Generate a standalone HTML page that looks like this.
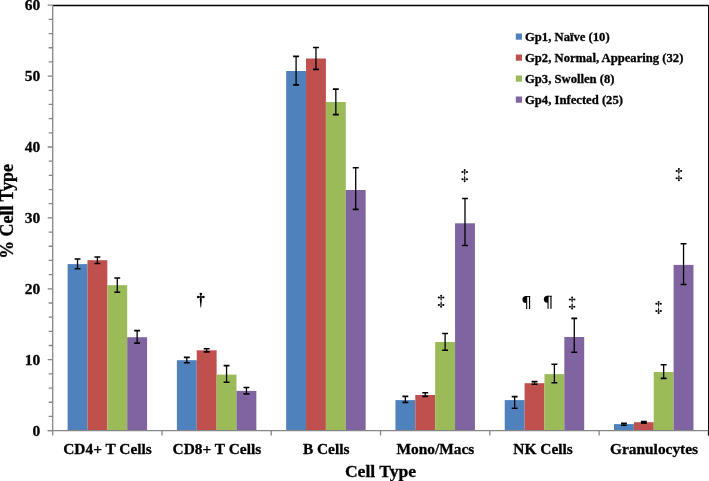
<!DOCTYPE html>
<html><head><meta charset="utf-8"><style>
html,body{margin:0;padding:0;background:#fff;width:709px;height:481px;overflow:hidden}
svg{display:block;will-change:transform}
text{font-family:"Liberation Serif",serif;font-weight:bold;fill:#000;stroke:#000;stroke-width:0.3px}
.t15{font-size:15.4px}
.tk{font-size:15.5px}
.t17{font-size:17.6px}
.t18{font-size:17.9px}
.t12{font-size:12.65px}
</style></head><body>
<svg width="709" height="481" viewBox="0 0 709 481">
<rect x="67.60" y="264.10" width="19.87" height="166.50" fill="#4F81BD"/>
<rect x="87.47" y="260.20" width="19.87" height="170.40" fill="#C0504D"/>
<rect x="107.34" y="285.20" width="19.87" height="145.40" fill="#9BBB59"/>
<rect x="127.21" y="337.20" width="19.87" height="93.40" fill="#8064A2"/>
<rect x="176.88" y="360.20" width="19.87" height="70.40" fill="#4F81BD"/>
<rect x="196.75" y="350.30" width="19.87" height="80.30" fill="#C0504D"/>
<rect x="216.62" y="374.60" width="19.87" height="56.00" fill="#9BBB59"/>
<rect x="236.49" y="390.90" width="19.87" height="39.70" fill="#8064A2"/>
<rect x="286.16" y="71.00" width="19.87" height="359.60" fill="#4F81BD"/>
<rect x="306.03" y="58.50" width="19.87" height="372.10" fill="#C0504D"/>
<rect x="325.90" y="102.00" width="19.87" height="328.60" fill="#9BBB59"/>
<rect x="345.77" y="190.00" width="19.87" height="240.60" fill="#8064A2"/>
<rect x="395.44" y="400.10" width="19.87" height="30.50" fill="#4F81BD"/>
<rect x="415.31" y="395.00" width="19.87" height="35.60" fill="#C0504D"/>
<rect x="435.18" y="342.00" width="19.87" height="88.60" fill="#9BBB59"/>
<rect x="455.05" y="223.30" width="19.87" height="207.30" fill="#8064A2"/>
<rect x="504.72" y="400.10" width="19.87" height="30.50" fill="#4F81BD"/>
<rect x="524.59" y="383.20" width="19.87" height="47.40" fill="#C0504D"/>
<rect x="544.46" y="374.10" width="19.87" height="56.50" fill="#9BBB59"/>
<rect x="564.33" y="337.00" width="19.87" height="93.60" fill="#8064A2"/>
<rect x="614.00" y="424.10" width="19.87" height="6.50" fill="#4F81BD"/>
<rect x="633.87" y="422.20" width="19.87" height="8.40" fill="#C0504D"/>
<rect x="653.74" y="372.00" width="19.87" height="58.60" fill="#9BBB59"/>
<rect x="673.61" y="264.90" width="19.87" height="165.70" fill="#8064A2"/>
<path d="M77.54 259.00V268.80" stroke="#000" stroke-width="1.3" fill="none"/>
<path d="M74.59 259.00H80.49M74.59 268.80H80.49" stroke="#000" stroke-width="1.6" fill="none"/>
<path d="M97.41 257.00V263.50" stroke="#000" stroke-width="1.3" fill="none"/>
<path d="M94.46 257.00H100.36M94.46 263.50H100.36" stroke="#000" stroke-width="1.6" fill="none"/>
<path d="M117.28 278.00V292.30" stroke="#000" stroke-width="1.3" fill="none"/>
<path d="M114.33 278.00H120.23M114.33 292.30H120.23" stroke="#000" stroke-width="1.6" fill="none"/>
<path d="M137.15 330.60V343.10" stroke="#000" stroke-width="1.3" fill="none"/>
<path d="M134.20 330.60H140.09M134.20 343.10H140.09" stroke="#000" stroke-width="1.6" fill="none"/>
<path d="M186.82 357.40V362.70" stroke="#000" stroke-width="1.3" fill="none"/>
<path d="M183.87 357.40H189.77M183.87 362.70H189.77" stroke="#000" stroke-width="1.6" fill="none"/>
<path d="M206.69 348.80V351.90" stroke="#000" stroke-width="1.3" fill="none"/>
<path d="M203.74 348.80H209.64M203.74 351.90H209.64" stroke="#000" stroke-width="1.6" fill="none"/>
<path d="M226.56 365.60V382.30" stroke="#000" stroke-width="1.3" fill="none"/>
<path d="M223.61 365.60H229.51M223.61 382.30H229.51" stroke="#000" stroke-width="1.6" fill="none"/>
<path d="M246.43 387.50V393.90" stroke="#000" stroke-width="1.3" fill="none"/>
<path d="M243.48 387.50H249.38M243.48 393.90H249.38" stroke="#000" stroke-width="1.6" fill="none"/>
<path d="M296.09 56.40V84.90" stroke="#000" stroke-width="1.3" fill="none"/>
<path d="M293.14 56.40H299.04M293.14 84.90H299.04" stroke="#000" stroke-width="1.6" fill="none"/>
<path d="M315.96 47.50V69.40" stroke="#000" stroke-width="1.3" fill="none"/>
<path d="M313.01 47.50H318.91M313.01 69.40H318.91" stroke="#000" stroke-width="1.6" fill="none"/>
<path d="M335.83 89.10V114.60" stroke="#000" stroke-width="1.3" fill="none"/>
<path d="M332.88 89.10H338.78M332.88 114.60H338.78" stroke="#000" stroke-width="1.6" fill="none"/>
<path d="M355.70 167.80V209.40" stroke="#000" stroke-width="1.3" fill="none"/>
<path d="M352.75 167.80H358.65M352.75 209.40H358.65" stroke="#000" stroke-width="1.6" fill="none"/>
<path d="M405.38 396.40V402.40" stroke="#000" stroke-width="1.3" fill="none"/>
<path d="M402.43 396.40H408.32M402.43 402.40H408.32" stroke="#000" stroke-width="1.6" fill="none"/>
<path d="M425.25 392.70V396.40" stroke="#000" stroke-width="1.3" fill="none"/>
<path d="M422.30 392.70H428.19M422.30 396.40H428.19" stroke="#000" stroke-width="1.6" fill="none"/>
<path d="M445.12 333.50V350.30" stroke="#000" stroke-width="1.3" fill="none"/>
<path d="M442.17 333.50H448.06M442.17 350.30H448.06" stroke="#000" stroke-width="1.6" fill="none"/>
<path d="M464.99 198.50V245.50" stroke="#000" stroke-width="1.3" fill="none"/>
<path d="M462.04 198.50H467.94M462.04 245.50H467.94" stroke="#000" stroke-width="1.6" fill="none"/>
<path d="M514.65 396.60V408.20" stroke="#000" stroke-width="1.3" fill="none"/>
<path d="M511.70 396.60H517.61M511.70 408.20H517.61" stroke="#000" stroke-width="1.6" fill="none"/>
<path d="M534.52 381.60V384.30" stroke="#000" stroke-width="1.3" fill="none"/>
<path d="M531.57 381.60H537.47M531.57 384.30H537.47" stroke="#000" stroke-width="1.6" fill="none"/>
<path d="M554.39 364.30V382.70" stroke="#000" stroke-width="1.3" fill="none"/>
<path d="M551.44 364.30H557.34M551.44 382.70H557.34" stroke="#000" stroke-width="1.6" fill="none"/>
<path d="M574.26 318.40V352.30" stroke="#000" stroke-width="1.3" fill="none"/>
<path d="M571.31 318.40H577.21M571.31 352.30H577.21" stroke="#000" stroke-width="1.6" fill="none"/>
<path d="M623.93 423.20V425.20" stroke="#000" stroke-width="1.3" fill="none"/>
<path d="M620.98 423.20H626.88M620.98 425.20H626.88" stroke="#000" stroke-width="1.6" fill="none"/>
<path d="M643.80 421.60V423.20" stroke="#000" stroke-width="1.3" fill="none"/>
<path d="M640.85 421.60H646.75M640.85 423.20H646.75" stroke="#000" stroke-width="1.6" fill="none"/>
<path d="M663.67 364.70V378.40" stroke="#000" stroke-width="1.3" fill="none"/>
<path d="M660.72 364.70H666.62M660.72 378.40H666.62" stroke="#000" stroke-width="1.6" fill="none"/>
<path d="M683.54 243.70V284.50" stroke="#000" stroke-width="1.3" fill="none"/>
<path d="M680.59 243.70H686.50M680.59 284.50H686.50" stroke="#000" stroke-width="1.6" fill="none"/>
<path d="M52.7 5.5H708.8M708.8 5.5V430.60" stroke="#000" stroke-width="1.5" fill="none"/>
<path d="M52.7 5.5V435.60M47.7 430.60H52.7M48.7 416.42H52.7M48.7 402.24H52.7M48.7 388.06H52.7M48.7 373.88H52.7M47.7 359.70H52.7M48.7 345.52H52.7M48.7 331.34H52.7M48.7 317.16H52.7M48.7 302.98H52.7M47.7 288.80H52.7M48.7 274.62H52.7M48.7 260.44H52.7M48.7 246.26H52.7M48.7 232.08H52.7M47.7 217.90H52.7M48.7 203.72H52.7M48.7 189.54H52.7M48.7 175.36H52.7M48.7 161.18H52.7M47.7 147.00H52.7M48.7 132.82H52.7M48.7 118.64H52.7M48.7 104.46H52.7M48.7 90.28H52.7M47.7 76.10H52.7M48.7 61.92H52.7M48.7 47.74H52.7M48.7 33.56H52.7M48.7 19.38H52.7M47.7 5.20H52.7" stroke="#868686" stroke-width="1.3" fill="none"/>
<path d="M47.7 430.60H708.8M161.98 430.60V435.60M271.26 430.60V435.60M380.54 430.60V435.60M489.82 430.60V435.60M599.10 430.60V435.60M708.38 430.60V435.60" stroke="#868686" stroke-width="1.3" fill="none"/>
<path d="M708.8 430.60V435.60" stroke="#000" stroke-width="1.5" fill="none"/>
<text x="40.2" y="435.70" text-anchor="end" class="tk">0</text>
<text x="40.2" y="364.80" text-anchor="end" class="tk">10</text>
<text x="40.2" y="293.90" text-anchor="end" class="tk">20</text>
<text x="40.2" y="223.00" text-anchor="end" class="tk">30</text>
<text x="40.2" y="152.10" text-anchor="end" class="tk">40</text>
<text x="40.2" y="81.20" text-anchor="end" class="tk">50</text>
<text x="40.2" y="10.30" text-anchor="end" class="tk">60</text>
<text x="107.54" y="453.6" text-anchor="middle" class="t15">CD4+ T Cells</text>
<text x="216.92" y="453.6" text-anchor="middle" class="t15">CD8+ T Cells</text>
<text x="326.20" y="453.6" text-anchor="middle" class="t15">B Cells</text>
<text x="435.38" y="453.6" text-anchor="middle" class="t15">Mono/Macs</text>
<text x="543.06" y="453.6" text-anchor="middle" class="t15">NK Cells</text>
<text x="654.04" y="453.6" text-anchor="middle" class="t15">Granulocytes</text>
<text x="380.50" y="476.6" text-anchor="middle" class="t17">Cell Type</text>
<text transform="translate(12.9 211.4) rotate(-90)" text-anchor="middle" class="t18">% Cell Type</text>
<rect x="515.8" y="33.50" width="6.2" height="6.2" fill="#4F81BD"/>
<text x="525" y="40.60" class="t12">Gp1, Naïve (10)</text>
<rect x="515.8" y="54.50" width="6.2" height="6.2" fill="#C0504D"/>
<text x="525" y="61.60" class="t12">Gp2, Normal, Appearing (32)</text>
<rect x="515.8" y="75.50" width="6.2" height="6.2" fill="#9BBB59"/>
<text x="525" y="82.60" class="t12">Gp3, Swollen (8)</text>
<rect x="515.8" y="96.50" width="6.2" height="6.2" fill="#8064A2"/>
<text x="525" y="103.60" class="t12">Gp4, Infected (25)</text>
<g fill="#000">
<path d="M198.15 297.00H203.45" stroke="#000" stroke-width="1.3"/><path d="M200.30 294.00H201.30L201.40 297.70L201.90 299.30L201.10 307.50H200.50L199.70 299.30L200.20 297.70Z"/><circle cx="200.80" cy="294.00" r="1.25"/><circle cx="198.15" cy="297.00" r="1.25"/><circle cx="203.45" cy="297.00" r="1.25"/>
<path d="M438.80 297.60H443.40M438.80 304.90H443.40" stroke="#000" stroke-width="0.7"/><path d="M440.90 295.70H441.30L441.55 299.00L441.22 301.05L441.55 303.10L441.30 306.80H440.90L440.65 303.10L440.98 301.05L440.65 299.00Z"/><circle cx="441.10" cy="295.70" r="1.0"/><circle cx="438.80" cy="297.60" r="1.0"/><circle cx="443.40" cy="297.60" r="1.0"/><circle cx="438.80" cy="304.90" r="1.0"/><circle cx="443.40" cy="304.90" r="1.0"/><circle cx="441.10" cy="306.80" r="1.0"/><ellipse cx="441.10" cy="299.00" rx="0.6" ry="0.85"/><ellipse cx="441.10" cy="303.10" rx="0.6" ry="0.85"/>
<path d="M462.40 172.00H467.00M462.40 179.30H467.00" stroke="#000" stroke-width="0.7"/><path d="M464.50 170.10H464.90L465.15 173.40L464.82 175.45L465.15 177.50L464.90 181.20H464.50L464.25 177.50L464.58 175.45L464.25 173.40Z"/><circle cx="464.70" cy="170.10" r="1.0"/><circle cx="462.40" cy="172.00" r="1.0"/><circle cx="467.00" cy="172.00" r="1.0"/><circle cx="462.40" cy="179.30" r="1.0"/><circle cx="467.00" cy="179.30" r="1.0"/><circle cx="464.70" cy="181.20" r="1.0"/><ellipse cx="464.70" cy="173.40" rx="0.6" ry="0.85"/><ellipse cx="464.70" cy="177.50" rx="0.6" ry="0.85"/>
<path d="M569.80 299.40H574.40M569.80 306.70H574.40" stroke="#000" stroke-width="0.7"/><path d="M571.90 297.50H572.30L572.55 300.80L572.22 302.85L572.55 304.90L572.30 308.60H571.90L571.65 304.90L571.98 302.85L571.65 300.80Z"/><circle cx="572.10" cy="297.50" r="1.0"/><circle cx="569.80" cy="299.40" r="1.0"/><circle cx="574.40" cy="299.40" r="1.0"/><circle cx="569.80" cy="306.70" r="1.0"/><circle cx="574.40" cy="306.70" r="1.0"/><circle cx="572.10" cy="308.60" r="1.0"/><ellipse cx="572.10" cy="300.80" rx="0.6" ry="0.85"/><ellipse cx="572.10" cy="304.90" rx="0.6" ry="0.85"/>
<path d="M656.30 303.80H660.90M656.30 311.10H660.90" stroke="#000" stroke-width="0.7"/><path d="M658.40 301.90H658.80L659.05 305.20L658.72 307.25L659.05 309.30L658.80 313.00H658.40L658.15 309.30L658.48 307.25L658.15 305.20Z"/><circle cx="658.60" cy="301.90" r="1.0"/><circle cx="656.30" cy="303.80" r="1.0"/><circle cx="660.90" cy="303.80" r="1.0"/><circle cx="656.30" cy="311.10" r="1.0"/><circle cx="660.90" cy="311.10" r="1.0"/><circle cx="658.60" cy="313.00" r="1.0"/><ellipse cx="658.60" cy="305.20" rx="0.6" ry="0.85"/><ellipse cx="658.60" cy="309.30" rx="0.6" ry="0.85"/>
<path d="M676.60 171.00H681.20M676.60 178.30H681.20" stroke="#000" stroke-width="0.7"/><path d="M678.70 169.10H679.10L679.35 172.40L679.02 174.45L679.35 176.50L679.10 180.20H678.70L678.45 176.50L678.78 174.45L678.45 172.40Z"/><circle cx="678.90" cy="169.10" r="1.0"/><circle cx="676.60" cy="171.00" r="1.0"/><circle cx="681.20" cy="171.00" r="1.0"/><circle cx="676.60" cy="178.30" r="1.0"/><circle cx="681.20" cy="178.30" r="1.0"/><circle cx="678.90" cy="180.20" r="1.0"/><ellipse cx="678.90" cy="172.40" rx="0.6" ry="0.85"/><ellipse cx="678.90" cy="176.50" rx="0.6" ry="0.85"/>
<path d="M526.60 296.00H526.20A3.75 3.5 0 0 0 526.20 303.00H526.60Z"/><rect x="526.10" y="296.00" width="1.1" height="13"/><rect x="528.95" y="296.00" width="1.2" height="13"/><rect x="526.10" y="296.00" width="4.05" height="0.9"/>
<path d="M548.00 295.80H547.60A3.75 3.5 0 0 0 547.60 302.80H548.00Z"/><rect x="547.50" y="295.80" width="1.1" height="13"/><rect x="550.35" y="295.80" width="1.2" height="13"/><rect x="547.50" y="295.80" width="4.05" height="0.9"/>
</g>
</svg>
</body></html>
